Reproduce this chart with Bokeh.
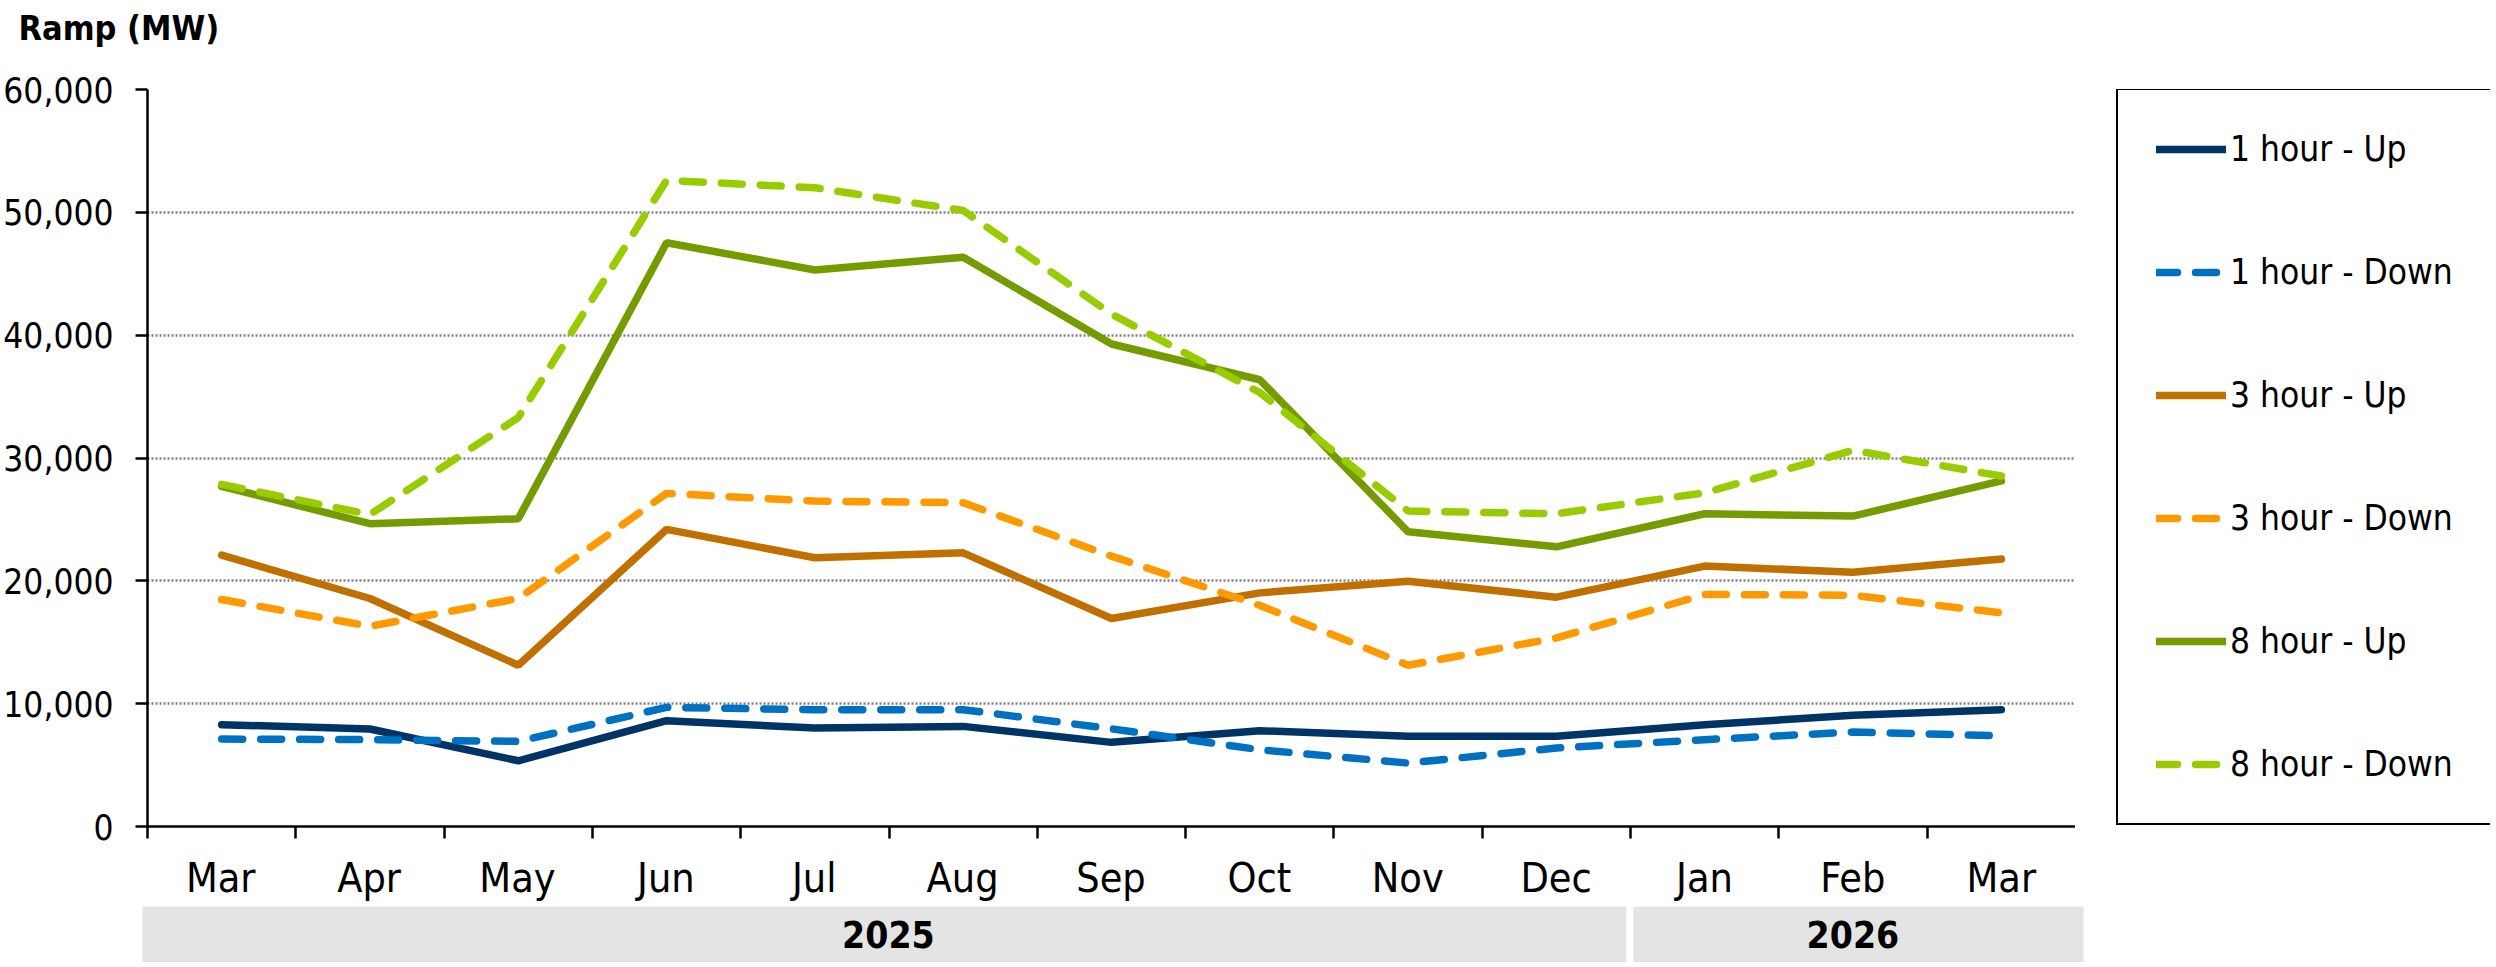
import numpy as np
from bokeh.plotting import figure
from bokeh.models import (Range1d, FixedTicker, NumeralTickFormatter, Legend,
                          LegendItem, LinearAxis)
from bokeh.layouts import column, row
from bokeh.core.properties import value
from bokeh.embed import file_html
from bokeh.resources import INLINE

# data (MW)
months = ["Mar", "Apr", "May", "Jun", "Jul", "Aug", "Sep", "Oct", "Nov", "Dec", "Jan", "Feb", "Mar"]
years = ["2025", "2026"]
months_per_year = [10, 3]

up_1h = [8290, 7940, 5350, 8610, 8020, 8150, 6850, 7800, 7340, 7340, 8290, 9050, 9510]
down_1h = [7120, 7070, 6930, 9700, 9510, 9510, 7950, 6250, 5160, 6390, 7070, 7690, 7390]
up_3h = [22090, 18560, 13130, 24190, 21880, 22280, 16930, 19020, 19970, 18670, 21200, 20700, 21770]
down_3h = [18480, 16300, 18560, 27120, 26490, 26360, 22010, 18000, 13130, 15350, 18890, 18830, 17390]
up_8h = [27700, 24650, 25050, 47520, 45310, 46350, 39280, 36370, 23990, 22770, 25460, 25270, 28130]
down_8h = [27850, 25400, 33290, 52600, 52000, 50150, 41720, 35330, 25680, 25460, 27170, 30630, 28530]

series = [
    ("1 hour - Up", up_1h, "#003366", "solid"),
    ("1 hour - Down", down_1h, "#0070C0", "21 18"),
    ("3 hour - Up", up_3h, "#C07000", "solid"),
    ("3 hour - Down", down_3h, "#FF9900", "21 18"),
    ("8 hour - Up", up_8h, "#749C00", "solid"),
    ("8 hour - Down", down_8h, "#99CC00", "21 18"),
]

FONT = "'Liberation Sans Narrow', 'Arial Narrow', 'DejaVu Sans Condensed', sans-serif"
n = len(months)
x = np.arange(n) + 0.5

# page layout (px): plot frame x 146..2075, y 89..826; legend column to the right
LEFT, RIGHT = 146, 2075
TOP_STRIP = 60
LEG_W = 415
W = RIGHT + LEG_W
px = (RIGHT - LEFT) / n


def bare(fig):
    fig.outline_line_color = None
    fig.grid.visible = False
    return fig


# title strip
pt = bare(figure(width=W, height=TOP_STRIP, x_range=Range1d(0, W), y_range=Range1d(0, TOP_STRIP),
                 x_axis_location=None, y_axis_location=None, min_border=0,
                 output_backend="svg", toolbar_location=None))
pt.text(x=[18], y=[TOP_STRIP - 27], text=["Ramp (MW)"], text_font=value(FONT),
        text_font_size="34px", text_font_style="bold", text_color="black",
        text_align="left", text_baseline="middle")

# main plot
p = figure(width=RIGHT, height=792, x_range=Range1d(0, n), y_range=Range1d(0, 60000),
           x_axis_location=None, y_axis_location="left",
           min_border_left=LEFT, min_border_right=0, min_border_top=29, min_border_bottom=26,
           output_backend="svg", toolbar_location=None)

for name, vals, color, dash in series:
    p.line(x, vals, line_color=color, line_width=7.5, line_dash=dash, line_cap="round")

yax = p.yaxis[0]
yax.ticker = FixedTicker(ticks=list(range(0, 60001, 10000)))
yax.formatter = NumeralTickFormatter(format="0,0")
yax.axis_line_width = 2.5
yax.axis_line_color = "black"
yax.major_tick_out = 12
yax.major_tick_in = 0
yax.major_tick_line_width = 2.5
yax.minor_tick_line_color = None
yax.major_label_standoff = 22
yax.major_label_text_font = FONT
yax.major_label_text_font_size = "35px"
yax.major_label_text_color = "black"

# x axis: ticks sit between the months
xax = LinearAxis(ticker=FixedTicker(ticks=[], minor_ticks=list(range(n))))
xax.axis_line_width = 2.5
xax.axis_line_color = "black"
xax.major_tick_out = 0
xax.minor_tick_out = 12
xax.minor_tick_in = 0
xax.minor_tick_line_width = 2.5
xax.minor_tick_line_color = "black"
xax.major_label_standoff = 0
p.add_layout(xax, "below")

p.xgrid.visible = False
p.ygrid.grid_line_color = "#808080"
p.ygrid.grid_line_dash = "2 2"
p.ygrid.grid_line_width = 2.5
p.outline_line_color = None

# legend column: same series drawn off-range so only the legend shows
pl = bare(figure(width=LEG_W, height=792, x_range=Range1d(0, n), y_range=Range1d(-2, -1),
                 x_axis_location=None, y_axis_location=None,
                 min_border_left=0, min_border_right=0, min_border_top=29, min_border_bottom=26,
                 output_backend="svg", toolbar_location=None))
items = []
for name, vals, color, dash in series:
    r = pl.line(x, vals, line_color=color, line_width=7.5, line_dash=dash, line_cap="round")
    items.append(LegendItem(label=name, renderers=[r]))
legend = Legend(items=items, location=(41, 1), margin=0,
                glyph_width=70, glyph_height=42, label_height=42,
                spacing=81, padding=38, label_standoff=4,
                label_text_font=FONT, label_text_font_size="35px",
                label_text_color="black", background_fill_color="white",
                border_line_color="black", border_line_alpha=1, border_line_width=2.5)
pl.add_layout(legend)

# month labels and year band underneath
p2 = bare(figure(width=W, height=110, x_range=Range1d(-LEFT / px, n + (W - RIGHT) / px),
                 y_range=Range1d(0, 110), x_axis_location=None, y_axis_location=None,
                 min_border=0, output_backend="svg", toolbar_location=None))

p2.text(x=x, y=[85] * n, text=months, text_font=value(FONT), text_font_size="41px",
        text_color="black", text_align="center", text_baseline="middle")

edges = np.concatenate([[0], np.cumsum(months_per_year)]).astype(float)
left = edges[:-1] + 3 / px
right = edges[1:] - 4 / px
left[0] = -4 / px
right[-1] = n + 8 / px
p2.quad(left=left, right=right, bottom=0, top=56, fill_color="#E4E4E4", line_color=None)
p2.text(x=(edges[:-1] + edges[1:]) / 2, y=[28] * len(years), text=years,
        text_font=value(FONT), text_font_size="37px", text_font_style="bold",
        text_color="black", text_align="center", text_baseline="middle")

layout = column(pt, row(p, pl), p2)
open("out.html", "w").write(file_html(layout, INLINE))
